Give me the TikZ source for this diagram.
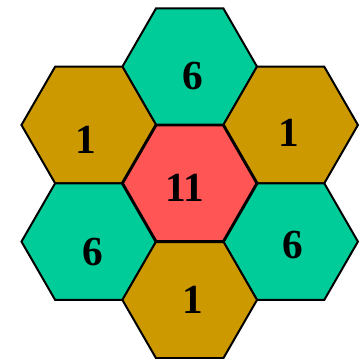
\documentclass[tikz,border=0pt]{standalone}
\usepackage{fontspec}
\setmainfont{Liberation Serif}
\usepackage{xcolor}
\usepackage{tikz}
\usetikzlibrary{shapes.geometric}

\definecolor{hexgreen}{HTML}{00CC99}
\definecolor{hexgold}{HTML}{CC9900}
\definecolor{hexred}{HTML}{FF5555}

\begin{document}
\begin{tikzpicture}[x=0.75pt, y=-0.75pt,
    hex/.style={regular polygon, regular polygon sides=6, minimum size=101pt,
      inner sep=0pt, draw=black, line width=1.5pt},
    greenhex/.style={hex, fill=hexgreen},
    goldhex/.style={hex, fill=hexgold},
    redhex/.style={hex, fill=hexred, line width=2.2pt},
    num/.style={font=\bfseries\fontsize{31}{31}\selectfont, inner sep=0pt}
  ]
  \useasboundingbox (0,0) rectangle (363,359);
  % outer ring
  \node[greenhex] (top) at (189.7,66.7) {};
  \node[goldhex] (upleft) at (88.8,125) {};
  \node[goldhex] (upright) at (290.6,125) {};
  \node[greenhex] (lowleft) at (88.8,241.6) {};
  \node[greenhex] (lowright) at (290.6,241.6) {};
  \node[goldhex] (bottom) at (189.7,299.9) {};
  % middle
  \node[redhex] (mid) at (189.7,183.3) {};
  % numbers
  \node[num] (top-n) at (193,76) {6};
  \node[num] (upleft-n) at (86,140) {1};
  \node[num] (upright-n) at (289,133) {1};
  \node[num] (mid-n) at (185,187.5) {11};
  \node[num] (lowleft-n) at (93,252) {6};
  \node[num] (lowright-n) at (293,245) {6};
  \node[num] (bottom-n) at (193,300) {1};
\end{tikzpicture}
\end{document}
